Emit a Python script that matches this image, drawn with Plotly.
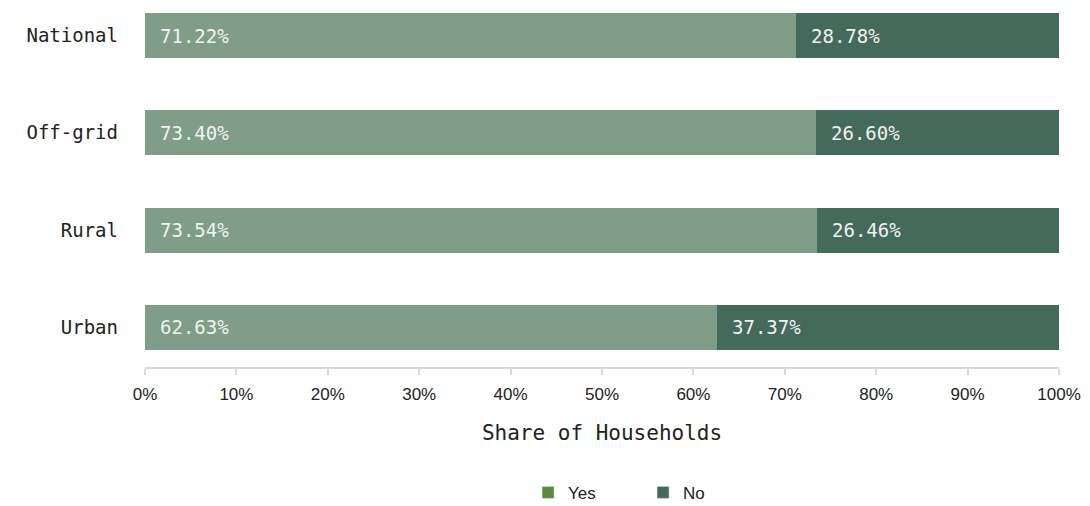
import plotly.graph_objects as go

categories = ["Urban", "Rural", "Off-grid", "National"]
yes_values = [62.63, 73.54, 73.40, 71.22]
no_values = [37.37, 26.46, 26.60, 28.78]
x_ticks = [0, 10, 20, 30, 40, 50, 60, 70, 80, 90, 100]
x_tick_labels = [f"{v}%" for v in x_ticks]

YES_BAR = "#809d87"
NO_BAR = "#436a5a"
YES_LEGEND = "#5b8a3a"
MONO = "DejaVu Sans Mono"
SANS = "Liberation Sans"

fig = go.Figure()
fig.add_trace(go.Bar(y=categories, x=yes_values, orientation="h", marker=dict(color=YES_BAR, line_width=0),
                     width=0.462, showlegend=False, hoverinfo="x+y"))
fig.add_trace(go.Bar(y=categories, x=no_values, orientation="h", marker=dict(color=NO_BAR, line_width=0),
                     width=0.462, showlegend=False, hoverinfo="x+y"))
# legend entries
fig.add_trace(go.Bar(y=[None], x=[None], orientation="h", name="Yes", marker_color=YES_LEGEND))
fig.add_trace(go.Bar(y=[None], x=[None], orientation="h", name="No", marker_color=NO_BAR))

annotations = []
for cat, yv, nv in zip(categories, yes_values, no_values):
    for base, val in ((0, yv), (yv, nv)):
        annotations.append(dict(x=base, y=cat, xref="x", yref="y", text=f"{val:.2f}%", showarrow=False,
                                xanchor="left", yanchor="middle", xshift=13,
                                font=dict(family=MONO, size=19, color="#f2f2f2")))

fig.update_layout(
    barmode="stack",
    width=1090, height=506,
    margin=dict(l=145, r=31, t=0, b=139, autoexpand=False),
    paper_bgcolor="white", plot_bgcolor="white",
    annotations=annotations,
    xaxis=dict(range=[0, 100], tickvals=x_ticks, ticktext=x_tick_labels, showgrid=False, zeroline=False,
               showline=True, linecolor="#d9d9d9", linewidth=2, ticks="outside", ticklen=6,
               tickcolor="#d9d9d9", tickwidth=2, ticklabelstandoff=5, automargin=False,
               tickfont=dict(family=SANS, size=17, color="#222"),
               title=dict(text="Share of Households", font=dict(family=MONO, size=21, color="#222"), standoff=22)),
    yaxis=dict(categoryorder="array", categoryarray=categories, range=[-0.406, 3.365], showgrid=False,
               zeroline=False, showline=False, ticks="", ticklabelstandoff=26, automargin=False,
               tickfont=dict(family=MONO, size=19, color="#222")),
    legend=dict(orientation="h", x=0.4191, xanchor="left", y=-0.343, yanchor="middle", traceorder="normal",
                font=dict(family=SANS, size=17, color="#222"), itemwidth=30, entrywidth=70),
    bargap=0,
)

fig.write_html("out.html", config={"displayModeBar": False},
               post_script="document.body.style.margin='0';document.body.style.overflow='hidden';")
